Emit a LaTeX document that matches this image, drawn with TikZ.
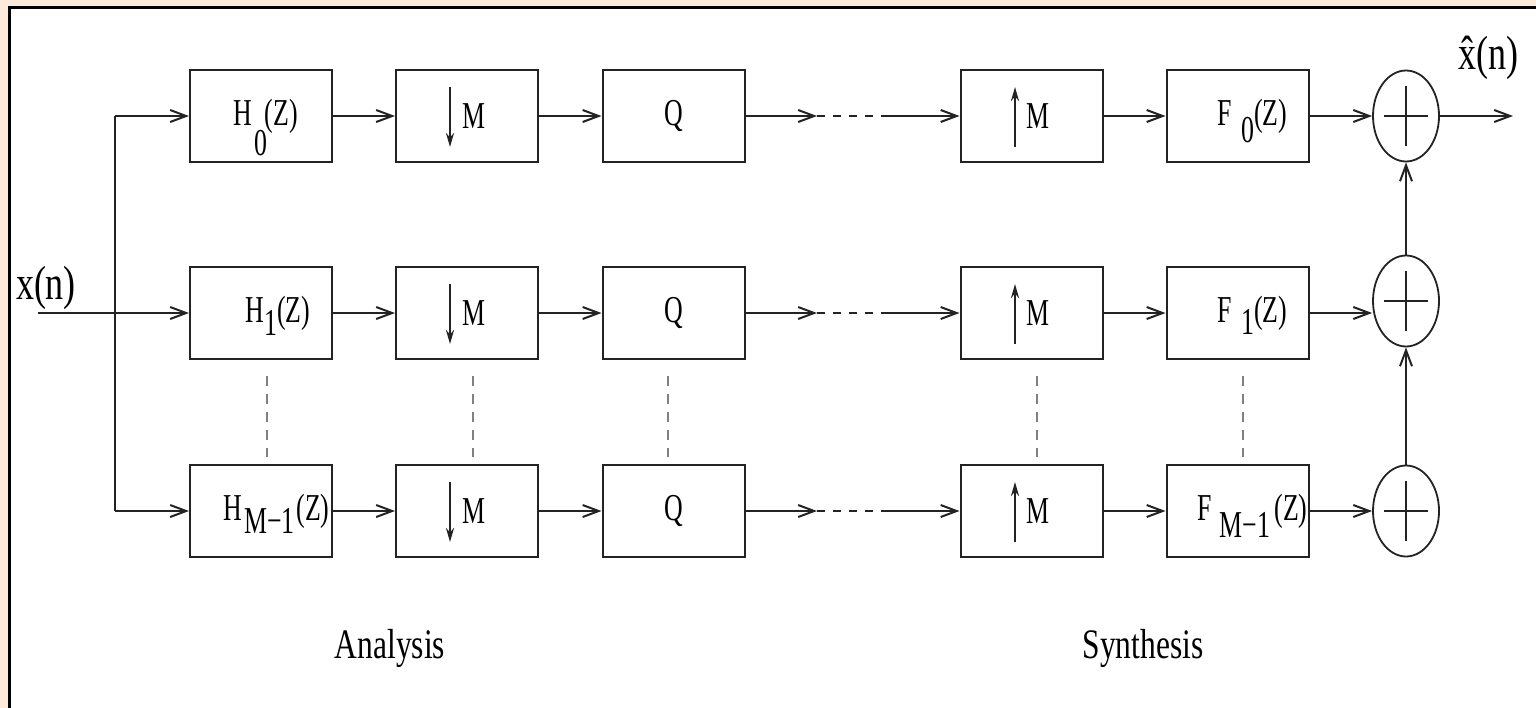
\documentclass[tikz,border=0pt]{standalone}
\usepackage{fontspec}
\setmainfont{Liberation Serif}[FakeStretch=0.75]
\newfontfamily\boxfont{Liberation Serif}[FakeStretch=0.68]
\usetikzlibrary{arrows.meta,shapes.geometric}
\definecolor{peach}{RGB}{253,234,218}
\definecolor{ln}{RGB}{35,35,35}
\begin{document}
\begin{tikzpicture}[x=0.5pt,y=-0.5pt,
  blk/.style={draw=ln,line width=1pt,minimum width=71pt,minimum height=46pt,inner sep=0pt,font=\boxfont\fontsize{19}{21}\selectfont},
  adder/.style={draw=ln,ellipse,line width=0.9pt,minimum width=33pt,minimum height=45.5pt,inner sep=0pt},
  sig/.style={draw=ln,line width=1pt,-{Straight Barb[length=8pt,width=6pt]}},
  wire/.style={draw=ln,line width=1pt},
  vdots/.style={draw=gray,line width=1.1pt,dash pattern=on 5pt off 4pt},
  hdots/.style={draw=ln,line width=1pt,dash pattern=on 4pt off 4pt},
  rate/.style={draw=ln,line width=1.2pt,-{Stealth[length=7pt,width=4pt]}},
  lbl/.style={font=\fontsize{21}{24}\selectfont,inner sep=0pt},
  sig2/.style={font=\fontsize{24}{28}\selectfont,inner sep=0pt}
]
\useasboundingbox (0,0) rectangle (1536,707);
\fill[peach] (-10,-10) rectangle (1560,730);
\fill[white] (10,8) rectangle (1560,730);
\draw[line width=1.5pt] (9.5,730) -- (9.5,7.5) -- (1560,7.5);

% analysis boxes
\node[blk] (H0) at (261,116) {\hspace*{4.5pt}H\kern1.5pt\rlap{\raisebox{-15pt}[0pt][0pt]{0}}\kern5pt(Z)};
\node[blk] (H1) at (261,313) {\hspace*{17pt}H\raisebox{-6.5pt}[0pt][0pt]{1}(Z)};
\node[blk] (H2) at (261,511) {\hspace*{15.5pt}H\kern1pt\raisebox{-6.5pt}[0pt][0pt]{M−1}\kern1pt(Z)};
\foreach \r/\y in {0/116,1/313,2/511}{
  \node[blk] (D\r) at (467,\y) {\hspace*{6.5pt}M};
  \node[blk] (Q\r) at (673.5,\y) {Q};
  \node[blk] (U\r) at (1031.5,\y) {\hspace*{6pt}M};
  \coordinate (qa\r) at (817,\y);
  \coordinate (qb\r) at (885,\y);
}
% synthesis filters
\node[blk] (F0) at (1237.5,116) {\hspace*{15pt}F\kern4.5pt\raisebox{-8.5pt}[0pt][0pt]{0}(Z)};
\node[blk] (F1) at (1237.5,313) {\hspace*{15pt}F\kern4.5pt\raisebox{-6pt}[0pt][0pt]{1}(Z)};
\node[blk] (F2) at (1237.5,511) {\hspace*{15pt}F\kern4pt\raisebox{-8.5pt}[0pt][0pt]{M−1}\kern2pt(Z)};

% adders
\node[adder] (A0) at (1406,116) {};
\node[adder] (A1) at (1406,301) {};
\node[adder] (A2) at (1406,511) {};
\foreach \a in {A0,A1,A2}{
  \draw[wire] (\a.center) +(-22,0) -- +(22,0);
  \draw[wire] (\a.center) +(0,-30) -- +(0,30);
}

% input
\node[sig2] (xlab) at (46,288) {x(n)};
\coordinate (xin) at (38,313);
\coordinate (s0) at (115,116);
\coordinate (s2) at (115,511);
\draw[sig] (xin) -- (H1.west);
\draw[wire] (s0) -- (s2);
\draw[sig] (s0) -- (H0.west);
\draw[sig] (s2) -- (H2.west);

% chains
\foreach \r in {0,1,2}{
  \draw[sig] (H\r.east) -- (D\r.west);
  \draw[sig] (D\r.east) -- (Q\r.west);
  \draw[sig] (Q\r.east) -- (qa\r);
  \draw[hdots] (qa\r) -- (qb\r);
  \draw[sig] (qb\r) -- (U\r.west);
  \draw[sig] (U\r.east) -- (F\r.east -| F\r.west);
  \draw[rate] ([shift={(-8.5pt,14.5pt)}]D\r.center) -- ([shift={(-8.5pt,-15.5pt)}]D\r.center);
  \draw[rate] ([shift={(-8.25pt,-15.5pt)}]U\r.center) -- ([shift={(-8.25pt,14.5pt)}]U\r.center);
}
\draw[sig] (F0.east) -- (A0.west);
\draw[sig] (F1.east) -- (F1.east -| A1.west);
\draw[sig] (F2.east) -- (A2.west);
\draw[sig] (A2.north) -- (A1.south);
\draw[sig] (A1.north) -- (A0.south);

% output
\coordinate (yout) at (1513,116);
\draw[sig] (A0.east) -- (yout);
\node[sig2] (ylab) at (1488,58) {\^{x}(n)};

% vertical dotted continuation
\foreach \c/\s in {H/3pt,D/3pt,Q/-2.75pt,U/2.75pt,F/2.75pt}{
  \draw[vdots,shorten <=8pt,shorten >=3.5pt] ([xshift=\s]\c1.south) -- ([xshift=\s]\c2.north);
}

% captions
\node[lbl] (an) at (390,648) {Analysis};
\node[lbl] (sy) at (1143,648) {Synthesis};
\end{tikzpicture}
\end{document}
